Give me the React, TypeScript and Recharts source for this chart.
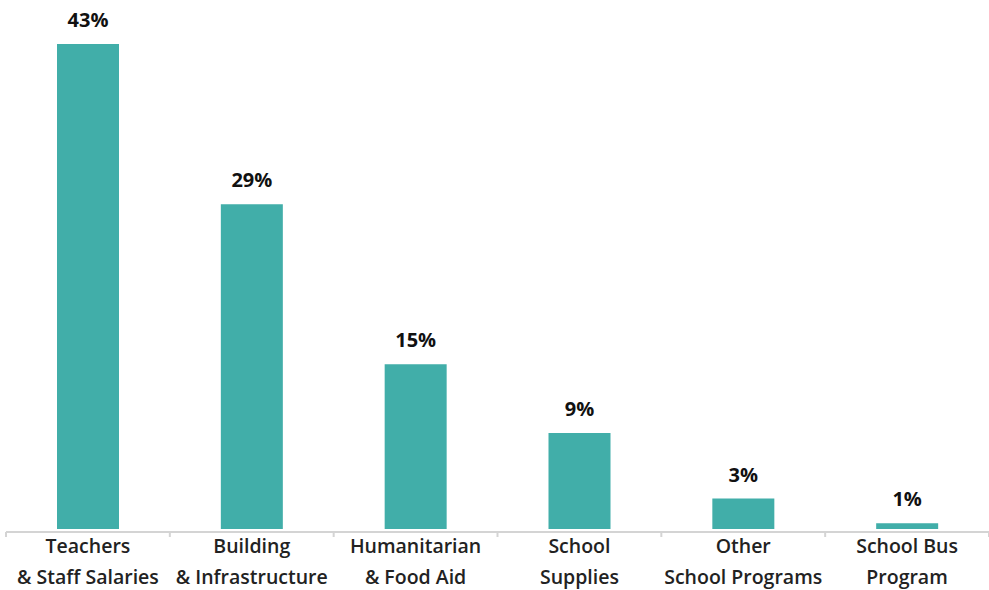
import { BarChart, Bar, XAxis, YAxis, LabelList } from 'recharts'

const CATEGORIES = [
  ['Teachers', '& Staff Salaries'],
  ['Building', '& Infrastructure'],
  ['Humanitarian', '& Food Aid'],
  ['School', 'Supplies'],
  ['Other', 'School Programs'],
  ['School Bus', 'Program'],
]
const SHARES = [43, 28.8, 14.6, 8.5, 2.7, 0.5]
const SHARE_LABELS = ['43%', '29%', '15%', '9%', '3%', '1%']

const W = 989
const H = 590
const LEFT = 6
const BAND = (W - LEFT) / CATEGORIES.length
const FONT = '"Open Sans", Lato, sans-serif'

const data = CATEGORIES.map((c, i) => ({ key: String(i), value: SHARES[i], label: SHARE_LABELS[i] }))

function CategoryTick({ x, payload, index }: any) {
  const lines = CATEGORIES[Number(payload.value)]
  const left = x - BAND / 2
  return (
    <g>
      <line x1={left} x2={left} y1={532} y2={537} stroke="#d4d4d4" strokeWidth={2} />
      {index === CATEGORIES.length - 1 && (
        <line x1={left + BAND} x2={left + BAND} y1={532} y2={537} stroke="#d4d4d4" strokeWidth={2} />
      )}
      <text x={x} y={553} textAnchor="middle" fontFamily={FONT} fontWeight={600} fontSize={19.5} fill="#222">
        {lines[0]}
      </text>
      <text x={x} y={584} textAnchor="middle" fontFamily={FONT} fontWeight={600} fontSize={19.5} fill="#222">
        {lines[1]}
      </text>
    </g>
  )
}

function ValueLabel({ x, y, width, value }: any) {
  return (
    <text x={x + width / 2} y={y - 17} textAnchor="middle" fontFamily={FONT} fontWeight={700} fontSize={20} fill="#111">
      {value}
    </text>
  )
}

export default function App() {
  return (
    <div style={{ position: 'absolute', left: 0, top: 0, width: W, height: H }}>
      <BarChart width={W} height={H} data={data} margin={{ top: 44, right: 0, bottom: 0, left: LEFT }} barCategoryGap={0}>
        <XAxis
          dataKey="key"
          height={H - 532}
          tickLine={false}
          axisLine={{ stroke: '#d4d4d4', strokeWidth: 2 }}
          tick={<CategoryTick />}
          interval={0}
        />
        <YAxis hide domain={[-0.27, 43]} />
        <Bar dataKey="value" fill="#41aea9" barSize={62} isAnimationActive={false}>
          <LabelList dataKey="label" content={<ValueLabel />} />
        </Bar>
      </BarChart>
    </div>
  )
}
